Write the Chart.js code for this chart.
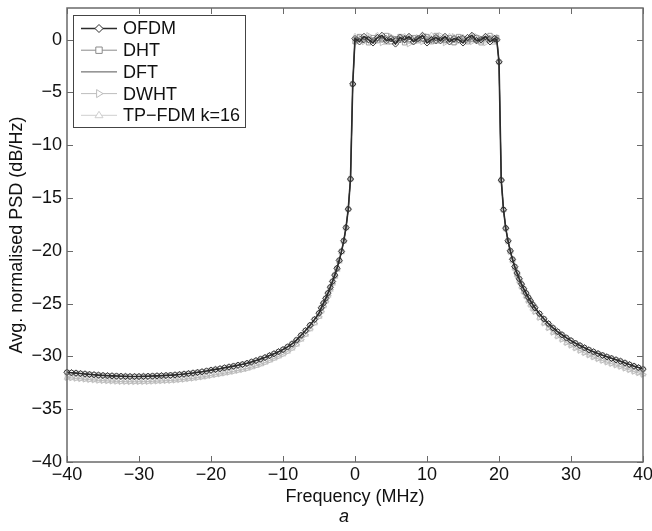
<!DOCTYPE html>
<html>
<head>
<meta charset="utf-8">
<script src="https://cdn.jsdelivr.net/npm/chart.js@4/dist/chart.umd.min.js"></script>
<style>
    html, body { margin: 0; padding: 0; background: #fff; }
    #wrap { width: 652px; height: 531px; }
</style>
</head>
<body>
<div id="wrap"><canvas id="psdChart" width="652" height="531"></canvas></div>
<script>
// ═══ PSD data ═══

// frequency grid, MHz
const freqLeft = [
    -40, -39.375, -38.75, -38.125, -37.5, -36.875, -36.25, -35.625,
    -35, -34.375, -33.75, -33.125, -32.5, -31.875, -31.25, -30.625,
    -30, -29.375, -28.75, -28.125, -27.5, -26.875, -26.25, -25.625,
    -25, -24.375, -23.75, -23.125, -22.5, -21.875, -21.25, -20.625,
    -20, -19.375, -18.75, -18.125, -17.5, -16.875, -16.25, -15.625,
    -15, -14.375, -13.75, -13.125, -12.5, -11.875, -11.25, -10.625,
    -10, -9.375, -8.75, -8.125, -7.5, -6.875, -6.25, -5.625,
    -5,
    -4.6875, -4.375, -4.0625, -3.75, -3.4375, -3.125, -2.8125, -2.5,
    -2.1875, -1.875, -1.5625, -1.25, -0.9375, -0.625, -0.3125
];
const freqPass = [
    0, 0.625, 1.25, 1.875, 2.5, 3.125, 3.75, 4.375,
    5, 5.625, 6.25, 6.875, 7.5, 8.125, 8.75, 9.375,
    10, 10.625, 11.25, 11.875, 12.5, 13.125, 13.75, 14.375,
    15, 15.625, 16.25, 16.875, 17.5, 18.125, 18.75, 19.375,
    19.6875
];
const freqRight = [
    20, 20.3125, 20.625, 20.9375, 21.25, 21.5625, 21.875, 22.1875,
    22.5, 22.8125, 23.125, 23.4375, 23.75, 24.0625, 24.375, 24.6875,
    25, 25.625, 26.25, 26.875, 27.5, 28.125, 28.75, 29.375,
    30, 30.625, 31.25, 31.875, 32.5, 33.125, 33.75, 34.375,
    35, 35.625, 36.25, 36.875, 37.5, 38.125, 38.75, 39.375,
    40
];

// out-of-band wings, dB/Hz  (OFDM / DHT / DFT sit on top, DWHT / TP-FDM a little lower)
const wingLeftDark = [
    -31.50, -31.54, -31.58, -31.62, -31.66, -31.70, -31.73, -31.77,
    -31.80, -31.82, -31.84, -31.86, -31.88, -31.89, -31.90, -31.90,
    -31.90, -31.89, -31.88, -31.86, -31.84, -31.82, -31.80, -31.78,
    -31.75, -31.71, -31.67, -31.62, -31.57, -31.51, -31.45, -31.38,
    -31.30, -31.23, -31.16, -31.08, -31.00, -30.92, -30.83, -30.75,
    -30.65, -30.52, -30.39, -30.25, -30.10, -29.92, -29.74, -29.55,
    -29.35, -29.10, -28.82, -28.45, -28.00, -27.55, -27.05, -26.50,
    -25.90,
    -25.40, -24.95, -24.50, -24.00, -23.45, -22.90, -22.30, -21.65,
    -20.90, -20.05, -19.05, -17.80, -16.05, -13.20, -4.20
];
const wingLeftLight = [
    -32.00, -32.04, -32.08, -32.12, -32.16, -32.20, -32.23, -32.27,
    -32.30, -32.32, -32.34, -32.36, -32.38, -32.39, -32.40, -32.40,
    -32.40, -32.39, -32.38, -32.36, -32.34, -32.32, -32.30, -32.28,
    -32.25, -32.21, -32.17, -32.12, -32.07, -32.01, -31.95, -31.88,
    -31.80, -31.73, -31.66, -31.58, -31.50, -31.42, -31.33, -31.25,
    -31.15, -31.02, -30.89, -30.74, -30.58, -30.39, -30.20, -30.00,
    -29.80, -29.54, -29.25, -28.87, -28.40, -27.94, -27.42, -26.86,
    -26.25,
    -25.73, -25.25, -24.78, -24.25, -23.67, -23.10, -22.47, -21.79,
    -21.01, -20.13, -19.10, -17.83, -16.05, -13.20, -4.20
];
const wingRightDark = [
    -2.10, -13.30, -16.10, -17.85, -19.05, -20.00, -20.80, -21.50,
    -22.10, -22.65, -23.15, -23.60, -24.00, -24.40, -24.75, -25.10,
    -25.40, -25.95, -26.45, -26.90, -27.30, -27.65, -27.95, -28.25,
    -28.50, -28.75, -28.97, -29.18, -29.38, -29.56, -29.73, -29.89,
    -30.04, -30.18, -30.32, -30.45, -30.62, -30.77, -30.92, -31.06,
    -31.20
];
const wingRightLight = [
    -2.10, -13.30, -16.10, -17.88, -19.10, -20.08, -20.91, -21.64,
    -22.27, -22.85, -23.37, -23.85, -24.28, -24.70, -25.08, -25.45,
    -25.76, -26.32, -26.84, -27.30, -27.72, -28.08, -28.39, -28.70,
    -28.95, -29.21, -29.44, -29.66, -29.87, -30.06, -30.23, -30.39,
    -30.54, -30.68, -30.82, -30.95, -31.12, -31.27, -31.42, -31.56,
    -31.70
];

// in-band ripple, dB/Hz
const passOfdm  = [ 0.1, -0.2, 0.3, 0.0, -0.3, 0.2, 0.4, -0.1, 0.1, -0.4, 0.2, 0.0, 0.3, -0.2, 0.1, 0.4, -0.3, 0.0, 0.2, -0.1, 0.3, -0.2, 0.1, 0.0, -0.3, 0.2, 0.4, -0.1, 0.0, 0.3, -0.2, 0.1, 0.0 ];
const passDht   = [ -0.2, 0.3, 0.1, -0.3, 0.2, -0.1, 0.0, 0.4, -0.2, 0.1, 0.3, -0.3, 0.0, 0.2, -0.1, 0.1, 0.3, -0.2, 0.4, 0.0, -0.1, 0.2, -0.3, 0.3, 0.1, -0.2, 0.0, 0.2, -0.3, 0.1, 0.4, -0.1, 0.2 ];
const passDft   = [ 0.2, 0.0, -0.3, 0.2, 0.1, -0.2, 0.3, 0.0, -0.1, 0.2, -0.3, 0.4, 0.1, -0.1, 0.3, -0.2, 0.0, 0.2, -0.4, 0.1, 0.3, 0.0, -0.2, 0.2, 0.4, -0.1, 0.1, -0.3, 0.2, 0.0, 0.3, -0.2, 0.1 ];
const passDwht  = [ -0.1, 0.2, -0.2, 0.4, 0.0, 0.3, -0.3, 0.1, 0.3, -0.1, 0.0, 0.2, -0.4, 0.1, 0.2, -0.2, 0.3, 0.1, -0.1, 0.4, -0.3, 0.0, 0.3, -0.1, 0.2, 0.0, -0.2, 0.3, 0.1, -0.3, 0.0, 0.2, -0.1 ];
const passTpfdm = [ 0.3, -0.1, 0.0, 0.2, -0.2, 0.4, 0.1, -0.3, 0.2, 0.0, -0.1, 0.3, 0.2, -0.2, 0.0, 0.3, -0.1, 0.4, -0.2, 0.1, 0.0, 0.3, -0.3, 0.1, 0.2, -0.1, 0.3, 0.0, -0.2, 0.2, 0.1, -0.3, 0.2 ];

const xTicks = [-40, -30, -20, -10, 0, 10, 20, 30, 40];
const yTicks = [-40, -35, -30, -25, -20, -15, -10, -5, 0];

const FONT = '"Liberation Sans", Arial, Helvetica, sans-serif';
const freqAll = [...freqLeft, ...freqPass, ...freqRight];

function toPoints(left, pass, right) {
    const vals = [...left, ...pass, ...right];
    return freqAll.map((f, i) => ({ x: f, y: vals[i] }));
}

function fmtMinus(v) {
    return v < 0 ? '\u2212' + Math.abs(v) : String(v);
}

// legend entries: label, line colour, marker
const legendItems = [
    { label: 'OFDM',             color: '#2b2b2b', marker: 'diamond',  width: 1.6 },
    { label: 'DHT',              color: '#8a8a8a', marker: 'square',   width: 1 },
    { label: 'DFT',              color: '#555555', marker: null,       width: 1 },
    { label: 'DWHT',             color: '#bdbdbd', marker: 'triRight', width: 1 },
    { label: 'TP\u2212FDM k=16', color: '#cfcfcf', marker: 'triUp',    width: 1 }
];

function drawMarker(ctx, kind, x, y, r) {
    ctx.beginPath();
    if (kind === 'diamond') {
        ctx.moveTo(x, y - r); ctx.lineTo(x + r, y); ctx.lineTo(x, y + r); ctx.lineTo(x - r, y);
    } else if (kind === 'square') {
        ctx.rect(x - r * 0.8, y - r * 0.8, r * 1.6, r * 1.6);
    } else if (kind === 'triRight') {
        ctx.moveTo(x + r, y); ctx.lineTo(x - r * 0.6, y - r); ctx.lineTo(x - r * 0.6, y + r);
    } else if (kind === 'triUp') {
        ctx.moveTo(x, y - r); ctx.lineTo(x + r, y + r * 0.6); ctx.lineTo(x - r, y + r * 0.6);
    }
    ctx.closePath();
    ctx.fillStyle = '#fff';
    ctx.fill();
    ctx.stroke();
}

// MATLAB-style box, inward ticks, legend and panel letter
const matlabFrame = {
    id: 'matlabFrame',
    afterDatasetsDraw(chart) {
        const { ctx, chartArea: a, scales: { x, y } } = chart;
        ctx.save();
        ctx.strokeStyle = '#6a6a6a';
        ctx.lineWidth = 1;
        ctx.beginPath();
        xTicks.forEach(v => {
            const px = Math.round(x.getPixelForValue(v)) + 0.5;
            ctx.moveTo(px, a.bottom); ctx.lineTo(px, a.bottom - 6);
            ctx.moveTo(px, a.top);    ctx.lineTo(px, a.top + 6);
        });
        yTicks.forEach(v => {
            const py = Math.round(y.getPixelForValue(v)) + 0.5;
            ctx.moveTo(a.left, py);  ctx.lineTo(a.left + 6, py);
            ctx.moveTo(a.right, py); ctx.lineTo(a.right - 6, py);
        });
        ctx.stroke();
        ctx.lineWidth = 1.5;
        ctx.strokeRect(a.left, a.top, a.right - a.left, a.bottom - a.top);
        ctx.restore();
    },
    afterDraw(chart) {
        const { ctx, chartArea: a } = chart;
        ctx.save();
        // legend box
        const bx = a.left + 6, by = a.top + 7, bw = 172, bh = 112;
        ctx.fillStyle = '#fff';
        ctx.fillRect(bx, by, bw, bh);
        ctx.strokeStyle = '#444';
        ctx.lineWidth = 1;
        ctx.strokeRect(bx + 0.5, by + 0.5, bw, bh);
        ctx.font = '18px ' + FONT;
        ctx.textBaseline = 'middle';
        legendItems.forEach((it, i) => {
            const ly = by + 13.5 + i * 21.7;
            ctx.strokeStyle = it.color;
            ctx.lineWidth = it.width;
            ctx.beginPath();
            ctx.moveTo(bx + 8, ly); ctx.lineTo(bx + 44, ly);
            ctx.stroke();
            if (it.marker) {
                ctx.lineWidth = 1;
                drawMarker(ctx, it.marker, bx + 26, ly, 4);
            }
            ctx.fillStyle = '#111';
            ctx.fillText(it.label, bx + 50, ly + 1);
        });
        // panel letter
        ctx.font = 'italic 18px ' + FONT;
        ctx.textAlign = 'center';
        ctx.fillStyle = '#111';
        ctx.fillText('a', 344, 517);
        ctx.restore();
    }
};

Chart.defaults.font.family = FONT;
Chart.defaults.color = '#111';

new Chart(document.getElementById('psdChart').getContext('2d'), {
    type: 'line',
    data: {
        datasets: [
            {
                label: 'OFDM',
                data: toPoints(wingLeftDark, passOfdm, wingRightDark),
                borderColor: '#2b2b2b', borderWidth: 1.6,
                pointStyle: 'rectRot', pointRadius: 3.2,
                pointBorderColor: '#2b2b2b', pointBackgroundColor: 'rgba(255,255,255,0)', pointBorderWidth: 0.9
            },
            {
                label: 'DHT',
                data: toPoints(wingLeftDark, passDht, wingRightDark),
                borderColor: '#8a8a8a', borderWidth: 1,
                pointStyle: 'rect', pointRadius: 3,
                pointBorderColor: '#8a8a8a', pointBackgroundColor: 'rgba(255,255,255,0)', pointBorderWidth: 0.8
            },
            {
                label: 'DFT',
                data: toPoints(wingLeftDark, passDft, wingRightDark),
                borderColor: '#555555', borderWidth: 1,
                pointRadius: 0
            },
            {
                label: 'DWHT',
                data: toPoints(wingLeftLight, passDwht, wingRightLight),
                borderColor: '#bdbdbd', borderWidth: 1,
                pointStyle: 'triangle', pointRotation: 90, pointRadius: 3.4,
                pointBorderColor: '#b5b5b5', pointBackgroundColor: 'rgba(255,255,255,0)', pointBorderWidth: 0.8
            },
            {
                label: 'TP-FDM k=16',
                data: toPoints(wingLeftLight, passTpfdm, wingRightLight),
                borderColor: '#cfcfcf', borderWidth: 1,
                pointStyle: 'triangle', pointRadius: 3.4,
                pointBorderColor: '#c8c8c8', pointBackgroundColor: 'rgba(255,255,255,0)', pointBorderWidth: 0.8
            }
        ]
    },
    options: {
        responsive: false,
        animation: false,
        clip: false,
        layout: { padding: { left: 0, right: 9, top: 8, bottom: 0 } },
        elements: { line: { tension: 0 } },
        scales: {
            x: {
                type: 'linear',
                min: -40, max: 40,
                afterBuildTicks: s => { s.ticks = xTicks.map(v => ({ value: v })); },
                afterFit: s => { s.height = 69; s.paddingLeft = 0; s.paddingRight = 0; },
                grid: { display: false, drawTicks: false, tickLength: 0 },
                border: { display: false },
                ticks: { font: { size: 18 }, color: '#111', padding: 2, maxRotation: 0, callback: fmtMinus },
                title: { display: true, text: 'Frequency (MHz)', font: { size: 18 }, color: '#111', padding: { top: 0, bottom: 23 } }
            },
            y: {
                type: 'linear',
                min: -40, max: 3,
                afterBuildTicks: s => { s.ticks = yTicks.map(v => ({ value: v })); },
                afterFit: s => { s.width = 67; s.paddingTop = 0; s.paddingBottom = 0; },
                grid: { display: false, drawTicks: false, tickLength: 0 },
                border: { display: false },
                ticks: { font: { size: 18 }, color: '#111', padding: 5, callback: fmtMinus },
                title: { display: true, text: 'Avg. normalised PSD (dB/Hz)', font: { size: 18 }, color: '#111', padding: { top: 6, bottom: 0 } }
            }
        },
        plugins: {
            legend: { display: false },
            tooltip: { enabled: false }
        }
    },
    plugins: [matlabFrame]
});
</script>
</body>
</html>
